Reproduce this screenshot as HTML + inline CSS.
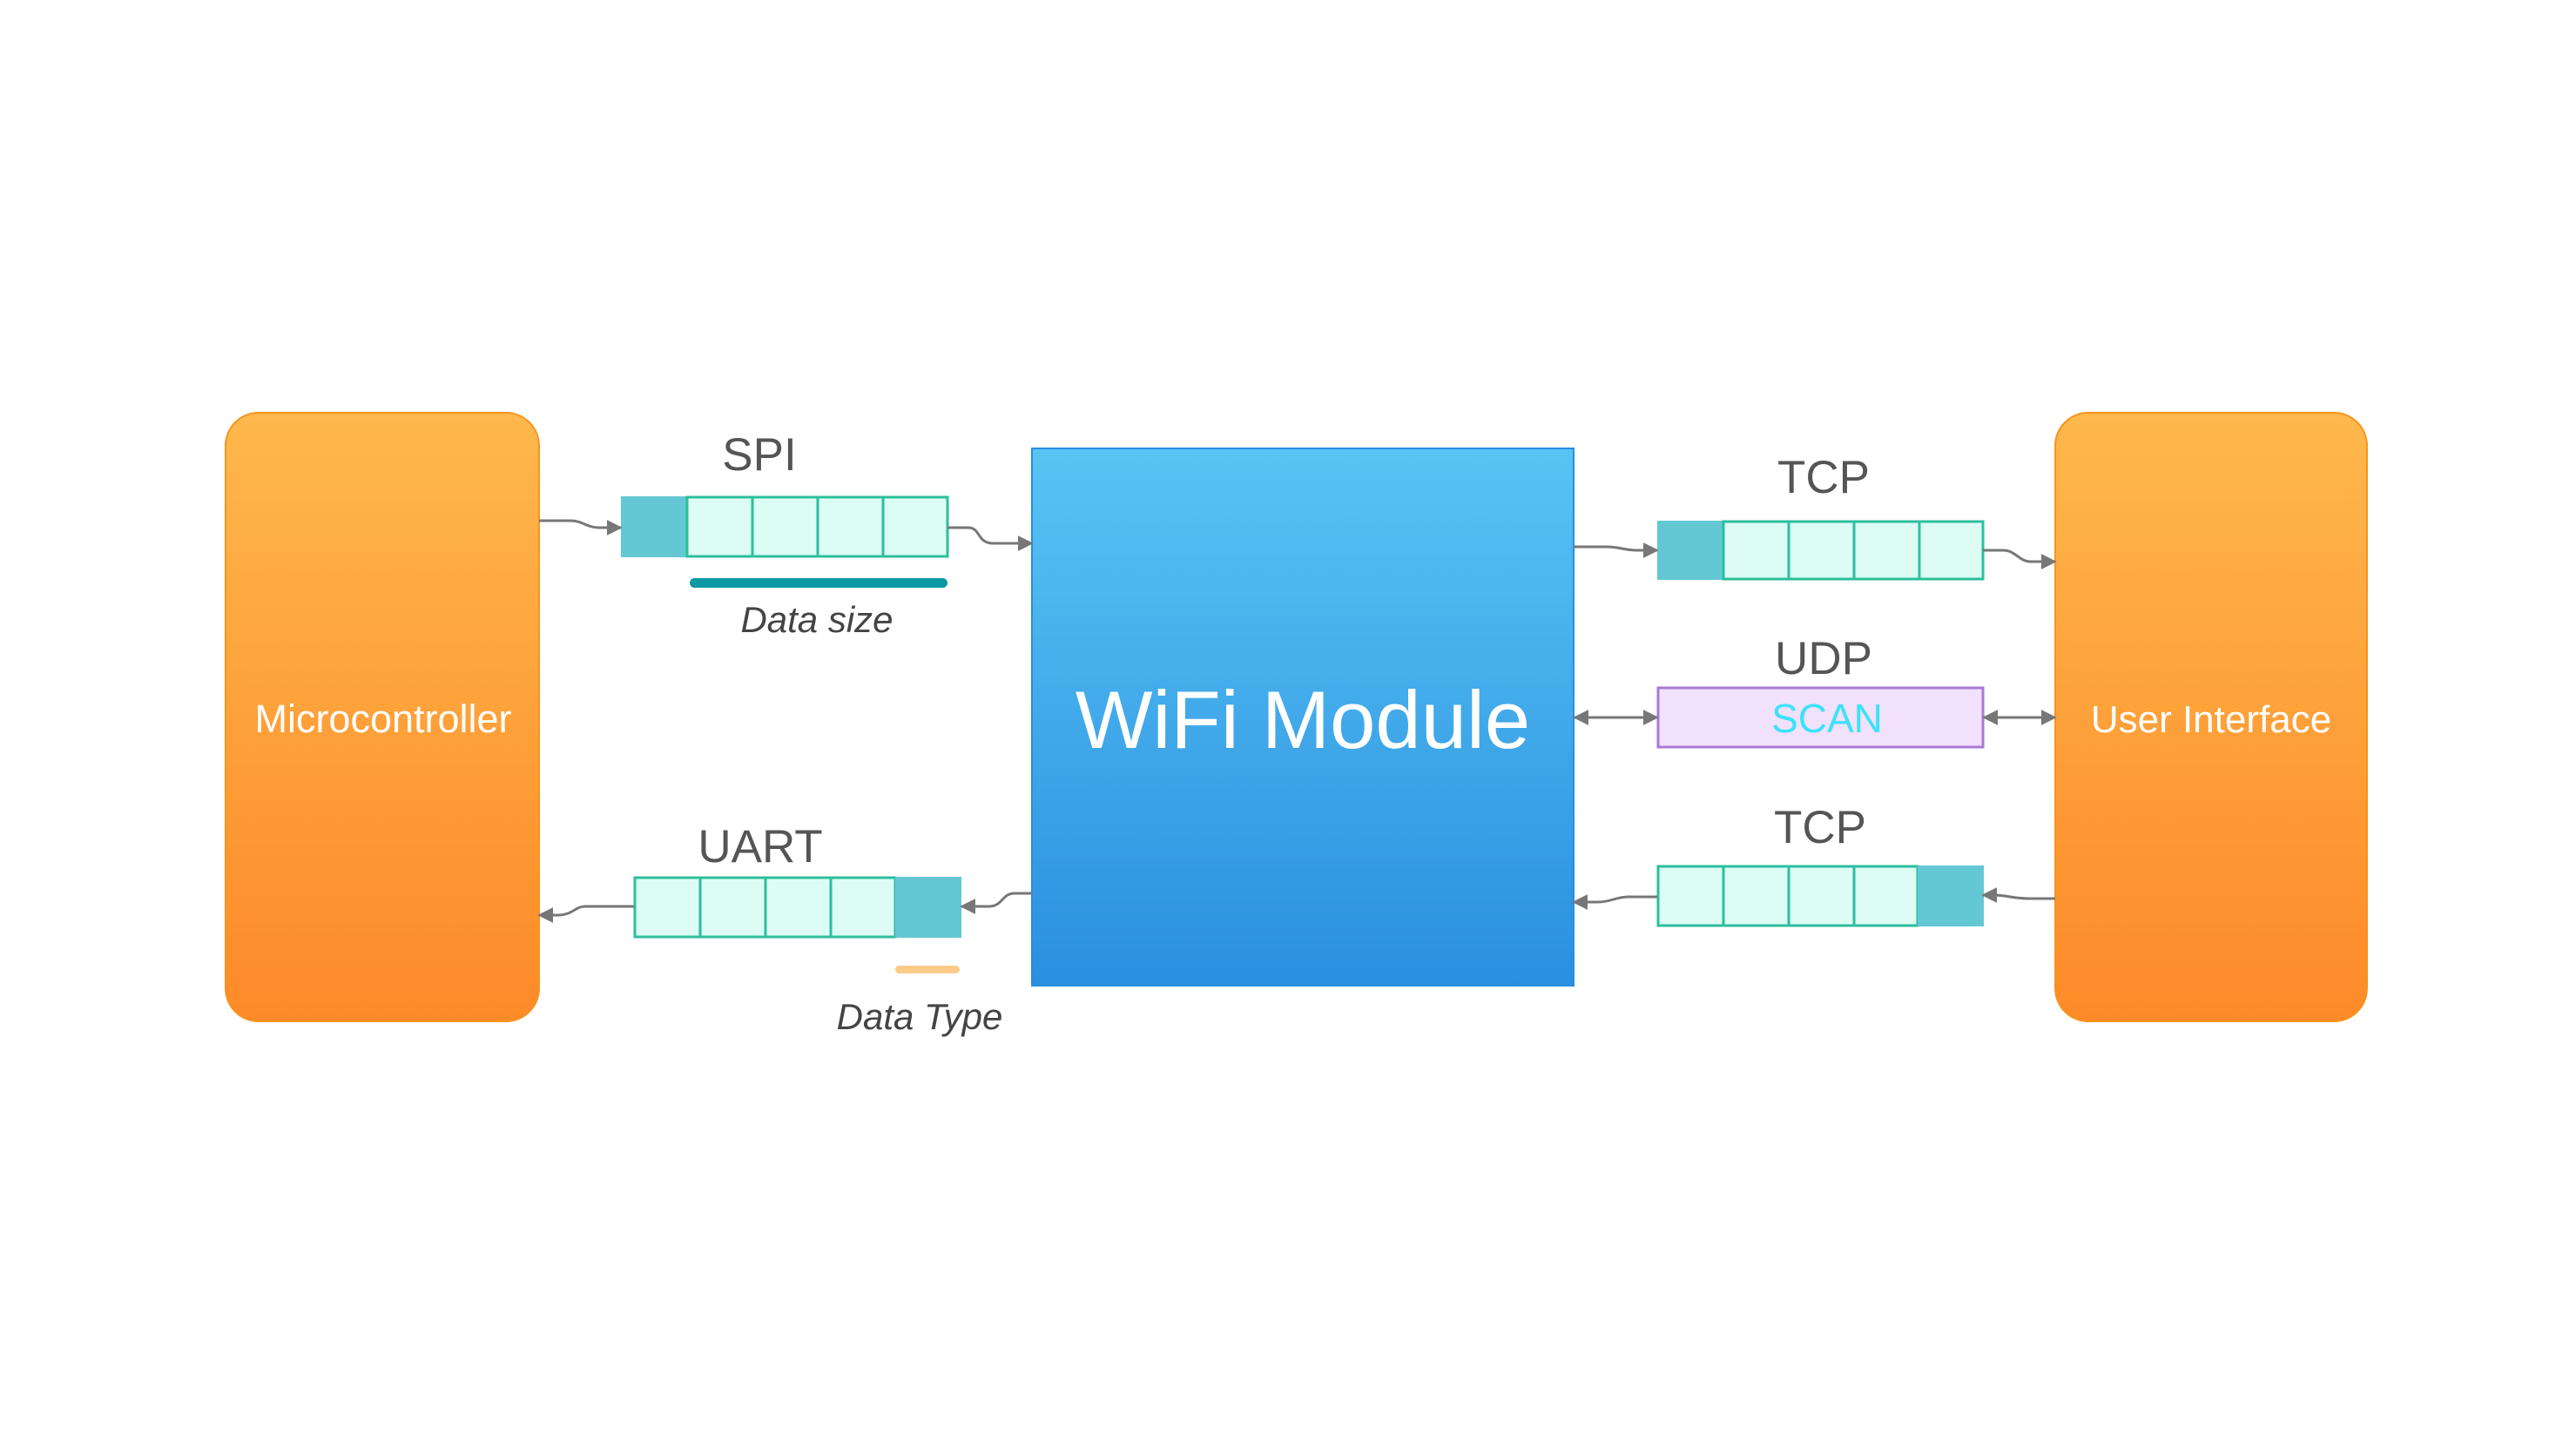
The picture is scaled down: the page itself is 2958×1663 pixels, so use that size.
<!DOCTYPE html>
<html><head><meta charset="utf-8"><style>
html,body{margin:0;padding:0;background:#fff;}
svg{display:block;}
text{font-family:"Liberation Sans",sans-serif;}
</style></head><body>
<svg width="2958" height="1663" viewBox="0 0 2958 1663" xmlns="http://www.w3.org/2000/svg">
<defs>
<linearGradient id="og" x1="0" y1="0" x2="0" y2="1"><stop offset="0" stop-color="#feb84c"/><stop offset="1" stop-color="#fd8a28"/></linearGradient>
<linearGradient id="bg" x1="0" y1="0" x2="0" y2="1"><stop offset="0" stop-color="#58c4f3"/><stop offset="1" stop-color="#2b8fe0"/></linearGradient>
<marker id="ah" viewBox="0 0 10 10" refX="9" refY="5" markerWidth="6" markerHeight="6" orient="auto-start-reverse"><path d="M0,0 L10,5 L0,10 z" fill="#777"/></marker>
</defs>

<rect x="259" y="474" width="360" height="699" rx="38" fill="url(#og)" stroke="#f7941d" stroke-width="2"/>
<text x="440" y="841" font-size="45" fill="#fff" text-anchor="middle">Microcontroller</text>

<rect x="2360" y="474" width="358" height="699" rx="38" fill="url(#og)" stroke="#f7941d" stroke-width="2"/>
<text x="2539" y="841" font-size="44" fill="#fff" text-anchor="middle">User Interface</text>

<rect x="1185" y="515" width="622" height="617" fill="url(#bg)" stroke="#2a8ee0" stroke-width="2"/>
<text x="1496" y="859" font-size="94" fill="#fff" text-anchor="middle">WiFi Module</text>

<text x="872" y="540" font-size="53" fill="#555" text-anchor="middle">SPI</text>
<rect x="713" y="570" width="76" height="70" fill="#63c8d3"/>
<g fill="#dcfcf5" stroke="#2cbf9c" stroke-width="3">
<rect x="789" y="571" width="75" height="68"/><rect x="864" y="571" width="75" height="68"/><rect x="939" y="571" width="75" height="68"/><rect x="1014" y="571" width="74" height="68"/>
</g>
<rect x="792" y="664" width="296" height="11" rx="5.5" fill="#0a98a3"/>
<text x="938" y="726" font-size="42" fill="#444" font-style="italic" text-anchor="middle">Data size</text>

<text x="873" y="990" font-size="53" fill="#555" text-anchor="middle">UART</text>
<g fill="#dcfcf5" stroke="#2cbf9c" stroke-width="3">
<rect x="729" y="1008" width="75" height="68"/><rect x="804" y="1008" width="75" height="68"/><rect x="879" y="1008" width="75" height="68"/><rect x="954" y="1008" width="74" height="68"/>
</g>
<rect x="1028" y="1007" width="76" height="70" fill="#63c8d3"/>
<rect x="1028" y="1109" width="74" height="9" rx="4.5" fill="#fccb8a"/>
<text x="1056" y="1182" font-size="42" fill="#444" font-style="italic" text-anchor="middle">Data Type</text>

<text x="2094" y="566" font-size="53" fill="#555" text-anchor="middle">TCP</text>
<rect x="1903" y="598" width="76" height="68" fill="#63c8d3"/>
<g fill="#dcfcf5" stroke="#2cbf9c" stroke-width="3">
<rect x="1979" y="599" width="75" height="66"/><rect x="2054" y="599" width="75" height="66"/><rect x="2129" y="599" width="75" height="66"/><rect x="2204" y="599" width="73" height="66"/>
</g>

<text x="2094" y="774" font-size="53" fill="#555" text-anchor="middle">UDP</text>
<rect x="1904" y="790" width="373" height="68" fill="#f1e1fb" stroke="#a77ad6" stroke-width="3"/>
<text x="2098" y="841" font-size="46" fill="#3de2f8" text-anchor="middle">SCAN</text>

<text x="2090" y="968" font-size="53" fill="#555" text-anchor="middle">TCP</text>
<g fill="#dcfcf5" stroke="#2cbf9c" stroke-width="3">
<rect x="1904" y="995" width="75" height="68"/><rect x="1979" y="995" width="75" height="68"/><rect x="2054" y="995" width="75" height="68"/><rect x="2129" y="995" width="73" height="68"/>
</g>
<rect x="2202" y="994" width="76" height="70" fill="#63c8d3"/>

<g fill="none" stroke="#777" stroke-width="3" marker-end="url(#ah)">
<path d="M619,598 L655,598 C670,598 672,606 690,606 L713,606"/>
<path d="M1088,606 L1112,606 C1126,606 1122,624 1140,624 L1185,624"/>
<path d="M1185,1026 L1165,1026 C1150,1026 1152,1041 1135,1041 L1104,1041"/>
<path d="M728,1041 L672,1041 C660,1041 658,1051 640,1051 L619,1051"/>
<path d="M1807,628 L1845,628 C1860,628 1865,632 1880,632 L1903,632"/>
<path d="M2277,632 L2300,632 C2315,632 2318,645 2332,645 L2360,645"/>
<path d="M2360,1032 L2330,1032 C2310,1032 2305,1028 2290,1028 L2277,1028"/>
<path d="M1903,1030 L1870,1030 C1855,1030 1850,1036 1835,1036 L1807,1036"/>
<path d="M1808,824 L1903,824" marker-start="url(#ah)"/>
<path d="M2278,824 L2360,824" marker-start="url(#ah)"/>
</g>
</svg>
</body></html>
